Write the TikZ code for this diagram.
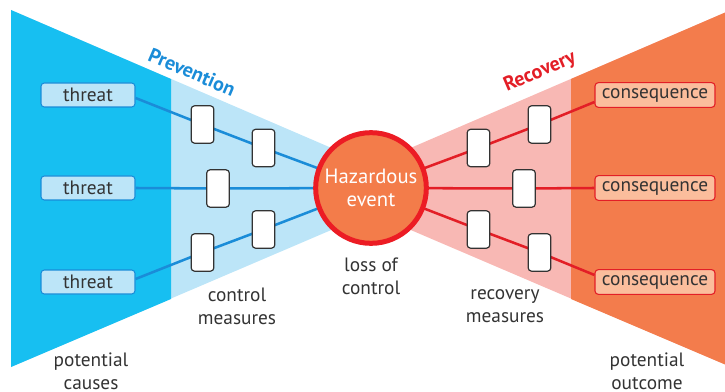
\documentclass[tikz,border=0pt]{standalone}
\usepackage{fontspec}
\setmainfont{PT Sans}
\usetikzlibrary{calc}
\definecolor{cyanD}{HTML}{17BFF1}
\definecolor{cyanL}{HTML}{BCE5F8}
\definecolor{blueLn}{HTML}{1A8CD8}
\definecolor{orangeD}{HTML}{F37C4C}
\definecolor{pinkL}{HTML}{F8B8B4}
\definecolor{redLn}{HTML}{E31E26}
\definecolor{evFill}{HTML}{F37C4A}
\definecolor{evRing}{HTML}{EC1C24}
\definecolor{consFill}{HTML}{FBBD9C}
\definecolor{txt}{HTML}{333333}
\pgfdeclarelayer{back}
\pgfdeclarelayer{lines}
\pgfsetlayers{back,lines,main}
\tikzset{
  threatbox/.style={draw=blueLn, fill=cyanL, line width=0.8pt, rounded corners=2.5pt,
    minimum width=70.5pt, minimum height=18pt, inner sep=0pt, text=txt, font=\fontsize{14.5}{16}\selectfont},
  consbox/.style={draw=redLn, fill=consFill, line width=0.8pt, rounded corners=2.5pt,
    minimum width=90pt, minimum height=18.5pt, inner sep=0pt, text=txt, font=\fontsize{14.5}{16}\selectfont},
  ctlbox/.style={draw=txt, fill=white, line width=0.9pt, rounded corners=2.5pt,
    minimum width=17pt, minimum height=28pt, inner sep=0pt},
  bline/.style={draw=blueLn, line width=1.9pt},
  rline/.style={draw=redLn, line width=1.9pt},
  caption/.style={text=txt, align=center, font=\fontsize{14.5}{17.25}\selectfont},
  heading/.style={font=\bfseries\fontsize{15}{17}\selectfont}
}
\begin{document}
\begin{tikzpicture}[x=0.75pt, y=-0.75pt]
\useasboundingbox (0,0) rectangle (725,392);
\clip (0,0) rectangle (725,392);

% wedges
\begin{pgfonlayer}{back}
  \fill[cyanL] (11,10) -- (371,165) -- (371,213) -- (11,367) -- cycle;
  \fill[cyanD] (11,10) -- (171,79) -- (171,299) -- (11,367) -- cycle;
  \fill[pinkL] (731,10) -- (371,165) -- (371,213) -- (731,367) -- cycle;
  \fill[orangeD] (571,79) -- (731,10) -- (731,367) -- (571,299) -- cycle;
\end{pgfonlayer}

% central event
\node[circle, draw=evRing, fill=evFill, line width=3.75pt, minimum size=83pt, inner sep=0pt,
      text=white, align=center, font=\fontsize{15.5}{17.25}\selectfont] (ev) at (371,188) {Hazardous\\event};

% causes and consequences
\node[threatbox] (t1) at (88,95) {threat};
\node[threatbox] (t2) at (88,188) {threat};
\node[threatbox] (t3) at (88,282) {threat};
\node[consbox] (c1) at (655,95) {consequence};
\node[consbox] (c2) at (655,188) {consequence};
\node[consbox] (c3) at (655,282) {consequence};

% barriers
\node[ctlbox] (p1a) at (202.5,124.5) {};
\node[ctlbox] (p1b) at (263.5,148) {};
\node[ctlbox] (p2)  at (218,188.5) {};
\node[ctlbox] (p3a) at (202.5,252.5) {};
\node[ctlbox] (p3b) at (263.5,229.5) {};
\node[ctlbox] (r1b) at (478.5,148) {};
\node[ctlbox] (r1a) at (539.5,124.5) {};
\node[ctlbox] (r2)  at (524,188.5) {};
\node[ctlbox] (r3b) at (478.5,229.5) {};
\node[ctlbox] (r3a) at (539.5,252.5) {};

% connectors
\begin{pgfonlayer}{lines}
  \draw[bline] ([yshift=-2.25pt]t1.east) -- (p1a.center) -- (p1b.center) -- (ev.center);
  \draw[bline] (t2.east) -- (p2.center) -- (ev.center);
  \draw[bline] ([yshift=2.25pt]t3.east) -- (p3a.center) -- (p3b.center) -- (ev.center);
  \draw[rline] (ev.center) -- (r1b.center) -- (r1a.center) -- ([yshift=-5.25pt]c1.west);
  \draw[rline] (ev.center) -- (r2.center) -- (c2.west);
  \draw[rline] (ev.center) -- (r3b.center) -- (r3a.center) -- ([yshift=5.25pt]c3.west);
\end{pgfonlayer}

% headings
\node[heading, text=blueLn, rotate=-23.3] (hp) at (192,72) {Prevention};
\node[heading, text=redLn, rotate=23.3] (hr) at (540,72) {Recovery};

% captions
\node[caption] (lc) at (371,276) {loss of\\control};
\node[caption] (cm) at (237,306) {control\\measures};
\node[caption] (rm) at (505,306) {recovery\\measures};
\node[caption] (pc) at (91,371) {potential\\causes};
\node[caption] (po) at (647,371) {potential\\outcome};
\end{tikzpicture}
\end{document}
